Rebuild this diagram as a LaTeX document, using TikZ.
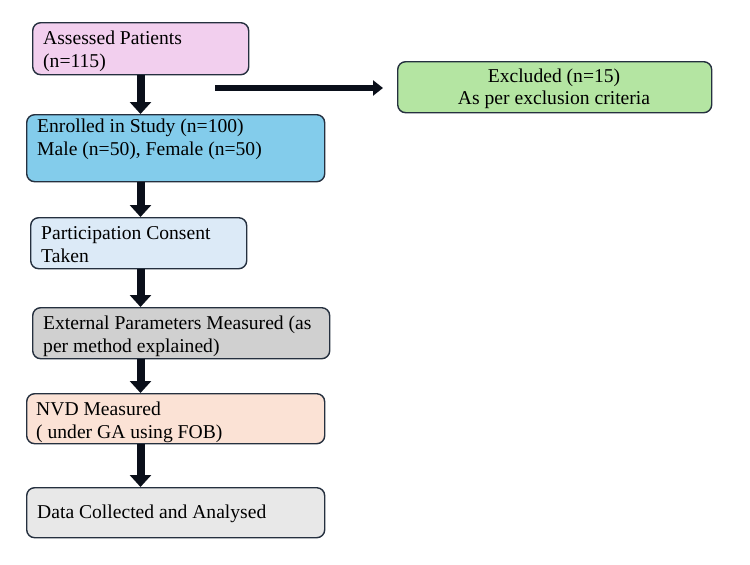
\documentclass[tikz,border=0pt]{standalone}
\usepackage{fontspec}
\setmainfont{Liberation Serif}
\usetikzlibrary{arrows.meta}
\definecolor{bordc}{HTML}{25303F}
\definecolor{cpink}{HTML}{F2CFEE}
\definecolor{cblue}{HTML}{83CCEB}
\definecolor{cgreen}{HTML}{B4E5A2}
\definecolor{clblue}{HTML}{DCEAF7}
\definecolor{cgray}{HTML}{D0D0D0}
\definecolor{cpeach}{HTML}{FBE2D5}
\definecolor{clgray}{HTML}{E8E8E8}
\definecolor{arrc}{HTML}{0A0F1A}
\tikzset{
  box/.style={draw=bordc, line width=1.4pt, rounded corners=8pt, anchor=north west, inner sep=0pt},
  txt/.style={inner sep=0pt, font=\fontsize{19.6}{23}\selectfont},
  bigarrow/.style={draw=arrc, line width=8pt, -{Triangle[width=21pt,length=12pt]}},
  sidearrow/.style={draw=arrc, line width=6pt, -{Triangle[width=15pt,length=10pt]}},
}
\begin{document}
\begin{tikzpicture}[x=1pt,y=-1pt]
\useasboundingbox (0,0) rectangle (750,565);
% boxes
\node[box, fill=cpink, minimum width=216pt, minimum height=52pt] (b1) at (32,22) {};
\node[box, fill=cblue, minimum width=298pt, minimum height=67pt] (b2) at (26,114) {};
\node[box, fill=cgreen, minimum width=314pt, minimum height=51pt] (bx) at (397,61) {};
\node[box, fill=clblue, minimum width=216pt, minimum height=51pt] (b3) at (30,217) {};
\node[box, fill=cgray, minimum width=297pt, minimum height=51pt] (b4) at (32,307) {};
\node[box, fill=cpeach, minimum width=298pt, minimum height=50pt] (b5) at (26,393) {};
\node[box, fill=clgray, minimum width=298pt, minimum height=50pt] (b6) at (26,487) {};
% texts
\node[txt, anchor=base west] (t1a) at (43,44) {Assessed Patients};
\node[txt, anchor=base west] (t1b) at (43,67) {(n=115)};
\node[txt, anchor=base west] (t2a) at (37,132) {Enrolled in Study (n=100)};
\node[txt, anchor=base west] (t2b) at (37,155) {Male (n=50), Female (n=50)};
\node[txt, anchor=base] (txa) at (554,82) {Excluded (n=15)};
\node[txt, anchor=base] (txb) at (554,104) {As per exclusion criteria};
\node[txt, anchor=base west] (t3a) at (41,239) {Participation Consent};
\node[txt, anchor=base west] (t3b) at (41,262) {Taken};
\node[txt, anchor=base west] (t4a) at (43,329) {External Parameters Measured (as};
\node[txt, anchor=base west] (t4b) at (43,352) {per method explained)};
\node[txt, anchor=base west] (t5a) at (36,415) {NVD Measured};
\node[txt, anchor=base west] (t5b) at (36,438) {( under GA using FOB)};
\node[txt, anchor=base west] (t6a) at (37,518) {Data Collected and Analysed};
% arrows
\coordinate (ax) at (140.5,0);
\draw[bigarrow] (ax |- b1.south) -- (ax |- b2.north);
\draw[bigarrow] (ax |- b2.south) -- (ax |- b3.north);
\draw[bigarrow] (ax |- b3.south) -- (ax |- b4.north);
\draw[bigarrow] (ax |- b4.south) -- (ax |- b5.north);
\draw[bigarrow] (ax |- b5.south) -- (ax |- b6.north);
\coordinate (hs) at (215,88);
\coordinate (he) at (383,88);
\draw[sidearrow] (hs) -- (he);
\end{tikzpicture}
\end{document}
